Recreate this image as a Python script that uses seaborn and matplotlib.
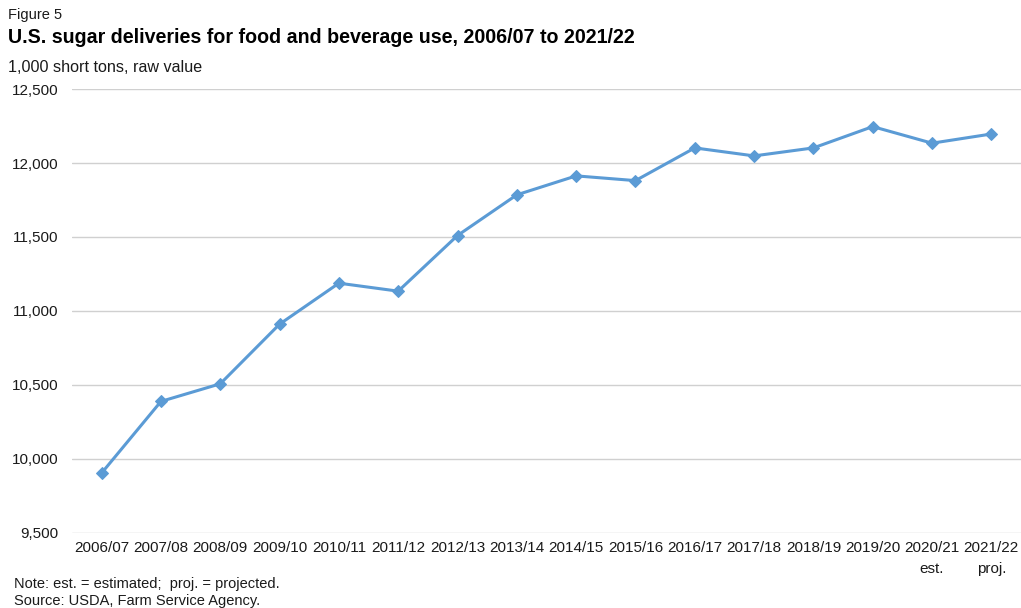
import numpy as np
import pandas as pd
import seaborn as sns
import matplotlib.pyplot as plt
from matplotlib.ticker import FuncFormatter

# Marketing years and deliveries (1,000 short tons, raw value)
years = ['2006/07', '2007/08', '2008/09', '2009/10', '2010/11', '2011/12',
         '2012/13', '2013/14', '2014/15', '2015/16', '2016/17', '2017/18',
         '2018/19', '2019/20', '2020/21', '2021/22']
deliveries = [9905, 10389, 10508, 10911, 11188, 11134, 11510, 11785,
              11913, 11881, 12102, 12048, 12102, 12246, 12134, 12196]
tick_labels = years[:-2] + ['2020/21\nest.', '2021/22\nproj.']
yticks = [9500, 10000, 10500, 11000, 11500, 12000, 12500]

df = pd.DataFrame({'year': years, 'deliveries': deliveries})
df['pos'] = np.arange(len(df))

sns.set_theme(style="white")
plt.rcParams['font.family'] = ['Liberation Sans', 'DejaVu Sans']

fig = plt.figure(figsize=(10.21, 6.08), dpi=100)
ax = fig.add_axes([0.0705, 0.1234, 0.9295, 0.7302])

sns.lineplot(data=df, x='pos', y='deliveries', ax=ax, color='#5b9bd5',
             linewidth=2.2, marker='D', markersize=6.5,
             markeredgecolor='#5b9bd5')

ax.set_xlim(-0.5, len(years) - 0.5)
ax.set_ylim(9500, 12500)
ax.set_yticks(yticks)
ax.yaxis.set_major_formatter(FuncFormatter(lambda v, p: f"{int(v):,}"))
ax.set_xticks(df['pos'])
ax.set_xticklabels(tick_labels, fontsize=11, color='#1a1a1a', linespacing=1.6)
ax.tick_params(axis='y', labelsize=11, colors='#1a1a1a', pad=10, length=0)
ax.tick_params(axis='x', length=0, pad=6)
ax.set_xlabel('')
ax.set_ylabel('')
ax.grid(axis='y', color='#d0d0d0', linewidth=1)
ax.set_axisbelow(True)
for s in ax.spines.values():
    s.set_visible(False)

fig.text(0.008, 0.975, 'Figure 5', fontsize=10.5, color='#1a1a1a', va='center')
fig.text(0.008, 0.939, 'U.S. sugar deliveries for food and beverage use, 2006/07 to 2021/22',
         fontsize=14.1, fontweight='bold', color='#000000', va='center')
fig.text(0.008, 0.889, '1,000 short tons, raw value', fontsize=11.6, color='#1a1a1a', va='center')
fig.text(0.014, 0.040, 'Note: est. = estimated;  proj. = projected.', fontsize=10.5,
         color='#1a1a1a', va='center')
fig.text(0.014, 0.011, 'Source: USDA, Farm Service Agency.', fontsize=10.5,
         color='#1a1a1a', va='center')

fig.savefig('out.png', dpi=100)
